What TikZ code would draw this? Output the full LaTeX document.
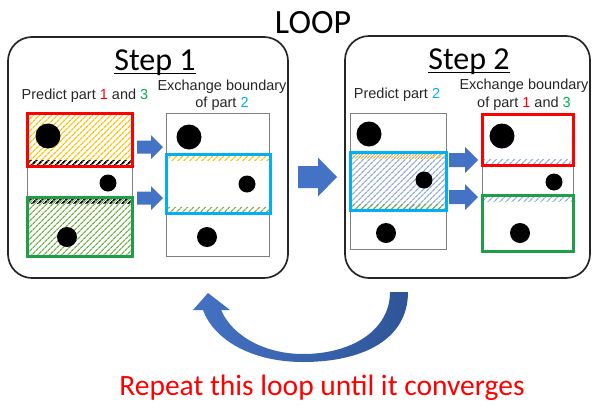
\documentclass[tikz,border=0pt]{standalone}
\usepackage{fontspec}
\setmainfont{Liberation Sans}
\newfontfamily\calib{Carlito}
\usetikzlibrary{patterns.meta,fit}

\definecolor{arrowblue}{HTML}{4472C4}
\definecolor{arrowdark}{HTML}{2F5597}
\definecolor{panelline}{HTML}{262626}
\definecolor{boxgray}{HTML}{7F7F7F}
\definecolor{labeltext}{HTML}{262626}
\definecolor{partred}{HTML}{FF0000}
\definecolor{partgreen}{HTML}{1E9E46}
\definecolor{txtgreen}{HTML}{00B050}
\definecolor{partblue}{HTML}{00B0F0}
\definecolor{hatchorange}{HTML}{FFC000}
\definecolor{hatchgreen}{HTML}{70AD47}
\definecolor{hatchblue}{HTML}{8FAADC}

\tikzset{
  panel/.style={draw=panelline, line width=1.7pt, rounded corners=24pt},
  grid/.style={draw=boxgray, line width=0.9pt, inner sep=0pt},
  part/.style={draw=#1, line width=3pt, inner sep=0pt},
  hatch/.style={pattern={Lines[angle=45,distance=4pt,line width=1.3pt]}, pattern color=#1},
  darkhatch/.style={pattern={Lines[angle=45,distance=4pt,line width=1.8pt]}, pattern color=#1},
  dot/.style={fill=black},
  label/.style={font=\fontsize{14.5}{17}\selectfont, text=labeltext, inner sep=0pt, anchor=base},
  title/.style={font=\calib\fontsize{32}{36}\selectfont, text=black, inner sep=0pt, anchor=base},
  pics/barrow/.style n args={4}{code={
    % #1 total length, #2 shaft height, #3 head height, #4 head length
    \fill[arrowblue] (0,{-#2/2}) -- ({#1-#4},{-#2/2}) -- ({#1-#4},{-#3/2}) -- (#1,0)
      -- ({#1-#4},{#3/2}) -- ({#1-#4},{#2/2}) -- (0,{#2/2}) -- cycle;
  }}
}

\begin{document}
\begin{tikzpicture}[x=1pt,y=-1pt]
\useasboundingbox (0,0) rectangle (592,405);

% ---------- headline ----------
\node[title, font=\calib\fontsize{34}{40}\selectfont] (loop) at (313,33) {LOOP};

% ---------- the two step panels ----------
\draw[panel] (8,37) rectangle (288,278);
\draw[panel] (345,36) rectangle (590,278);

\node[title] (t1) at (155,70) {Step 1};
\draw[line width=1.4pt] ([yshift=-3.5pt]t1.base west) -- ([yshift=-3.5pt]t1.base east);
\node[title] (t2) at (469,69) {Step 2};
\draw[line width=1.4pt] ([yshift=-3.5pt]t2.base west) -- ([yshift=-3.5pt]t2.base east);

% ---------- labels ----------
\node[label] (l1) at (85,99) {Predict part \textcolor{partred}{1} and \textcolor{txtgreen}{3}};
\node[label] (l2a) at (222,90) {Exchange boundary};
\node[label] (l2b) at (222,107) {of part \textcolor{partblue}{2}};
\node[label] (l3) at (397,98) {Predict part \textcolor{partblue}{2}};
\node[label] (l4a) at (524,89) {Exchange boundary};
\node[label] (l4b) at (524,107) {of part \textcolor{partred}{1} and \textcolor{txtgreen}{3}};

% ---------- Step 1, predicted parts 1 and 3 ----------
\node[grid, fit={(27,113) (132,256)}] (a) {};
\fill[hatch=hatchorange] (27,113) rectangle (132,166);
\fill[darkhatch=black] (27,160) rectangle (132,166);
\fill[hatch=hatchgreen] (27,197) rectangle (132,256);
\fill[darkhatch=black] (27,197) rectangle (132,203);
\node[part=partred, fit={(27,113) (132,166)}] (a1) {};
\node[part=partgreen, fit={(27,197) (132,256)}] (a3) {};
\fill[dot] (48,136) circle (12.5pt);
\fill[dot] (108,183) circle (8.5pt);
\fill[dot] (67,237) circle (10pt);

% ---------- Step 1, exchanged boundary of part 2 ----------
\node[grid, fit={(166,113) (269,256)}] (b) {};
\fill[hatch=hatchorange] (166,154) rectangle (270,160);
\fill[hatch=hatchgreen] (166,207) rectangle (270,213);
\node[part=partblue, fit={(166,154) (270,213)}] (b2) {};
\fill[dot] (189,137) circle (12.5pt);
\fill[dot] (247,184) circle (8.5pt);
\fill[dot] (207,237) circle (10pt);

\pic at (137,147) {barrow={26}{13}{24}{12}};
\pic at (137,198) {barrow={26}{13}{24}{12}};

% ---------- arrow from Step 1 to Step 2 ----------
\pic at (298,177) {barrow={39}{22}{39}{19}};

% ---------- Step 2, predicted part 2 ----------
\node[grid, fit={(350,113) (446,249)}] (c) {};
\fill[hatch=hatchblue] (350,152) rectangle (446,210);
\fill[hatch=hatchorange] (350,152) rectangle (446,158);
\fill[hatch=hatchgreen] (350,204) rectangle (446,210);
\node[part=partblue, fit={(350,152) (446,210)}] (c2) {};
\fill[dot] (369,134) circle (12.5pt);
\fill[dot] (424,180) circle (8.5pt);
\fill[dot] (386,233) circle (10pt);

% ---------- Step 2, exchanged boundary of parts 1 and 3 ----------
\node[grid, fit={(482,114) (573,251)}] (d) {};
\fill[hatch=hatchblue] (482,159) rectangle (573,165);
\fill[hatch=hatchblue] (482,195) rectangle (573,201);
\node[part=partred, fit={(482,114) (573,165)}] (d1) {};
\node[part=partgreen, fit={(482,195) (573,251)}] (d3) {};
\fill[dot] (502,136) circle (12.5pt);
\fill[dot] (554,182) circle (8.5pt);
\fill[dot] (520,233) circle (10pt);

\pic at (449,160) {barrow={29}{14}{26}{13}};
\pic at (449,197) {barrow={29}{14}{26}{13}};

% ---------- curved return arrow ----------
\shade[left color=arrowblue, right color=arrowdark]
  (408,292) .. controls (408,340) and (362,362) .. (303,362)
  .. controls (252,362) and (214,340) .. (203,310)
  -- (193,310) -- (208,293) -- (230,310) -- (221,310)
  .. controls (233,337) and (266,354) .. (303,354)
  .. controls (352,354) and (390,330) .. (390,292) -- cycle;

\node[title, font=\calib\fontsize{29.5}{34}\selectfont, text=partred] (note) at (322,395)
  {Repeat this loop until it converges};
\end{tikzpicture}
\end{document}
